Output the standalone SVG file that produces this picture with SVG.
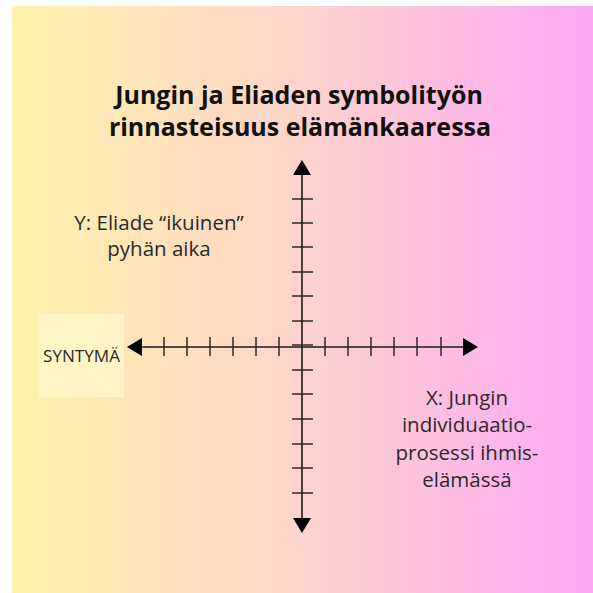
<svg xmlns="http://www.w3.org/2000/svg" width="593" height="593" viewBox="0 0 593 593">
<defs>
<linearGradient id="bg" x1="0" y1="0" x2="1" y2="0">
<stop offset="0" stop-color="#fef3aa"/>
<stop offset="0.5" stop-color="#fdd3cc"/>
<stop offset="1" stop-color="#fea8f6"/>
</linearGradient>
<style>
.title{font-family:"Open Sans","Liberation Sans",sans-serif;font-weight:bold;font-size:25px;fill:#111;text-anchor:middle}
.lbl{font-family:"Open Sans","Liberation Sans",sans-serif;font-size:20.5px;fill:#2a2a2a;text-anchor:middle}
.small{font-family:"Open Sans","Liberation Sans",sans-serif;font-size:16.5px;fill:#2a2a2a}
.axis{stroke:#1a1a1a;stroke-width:1.6;fill:none}
.tick{stroke:#2a2a2a;stroke-width:1.5}
.head{fill:#000}
</style>
</defs>
<rect width="593" height="593" fill="#fff"/>
<rect x="12" y="6" width="581" height="587" fill="url(#bg)"/>
<g id="title">
<text class="title" x="299" y="104">Jungin ja Eliaden symbolityön</text>
<text class="title" x="300" y="136">rinnasteisuus elämänkaaressa</text>
</g>
<g id="syntyma">
<rect x="38" y="314" width="86" height="83" fill="#fff7cc" opacity="0.75"/>
<text class="small" x="43" y="362" textLength="77" lengthAdjust="spacingAndGlyphs">SYNTYMÄ</text>
</g>
<g id="ylabel">
<text class="lbl" x="159" y="230">Y: Eliade “ikuinen”</text>
<text class="lbl" x="159" y="256">pyhän aika</text>
</g>
<g id="xlabel">
<text class="lbl" x="467" y="405">X: Jungin</text>
<text class="lbl" x="467" y="432">individuaatio-</text>
<text class="lbl" x="467" y="460">prosessi ihmis-</text>
<text class="lbl" x="467" y="487">elämässä</text>
</g>
<g id="connectors">
<line class="axis" x1="140" y1="347" x2="466" y2="347"/>
<line class="axis" x1="302" y1="173" x2="302" y2="520"/>
<polygon class="head" points="127,347 142,338 142,356"/>
<polygon class="head" points="478,347 463,338 463,356"/>
<polygon class="head" points="302,160 293,175 311,175"/>
<polygon class="head" points="302,533 293,518 311,518"/>
<g class="tick">
<line x1="164" y1="337" x2="164" y2="356"/>
<line x1="187" y1="337" x2="187" y2="356"/>
<line x1="210" y1="337" x2="210" y2="356"/>
<line x1="233" y1="337" x2="233" y2="356"/>
<line x1="256" y1="337" x2="256" y2="356"/>
<line x1="279" y1="337" x2="279" y2="356"/>
<line x1="325" y1="337" x2="325" y2="356"/>
<line x1="348" y1="337" x2="348" y2="356"/>
<line x1="371" y1="337" x2="371" y2="356"/>
<line x1="394" y1="337" x2="394" y2="356"/>
<line x1="417" y1="337" x2="417" y2="356"/>
<line x1="441" y1="337" x2="441" y2="356"/>
<line x1="292" y1="199" x2="313" y2="199"/>
<line x1="292" y1="223" x2="313" y2="223"/>
<line x1="292" y1="247" x2="313" y2="247"/>
<line x1="292" y1="272" x2="313" y2="272"/>
<line x1="292" y1="296" x2="313" y2="296"/>
<line x1="292" y1="321" x2="313" y2="321"/>
<line x1="292" y1="345" x2="313" y2="345"/>
<line x1="292" y1="370" x2="313" y2="370"/>
<line x1="292" y1="394" x2="313" y2="394"/>
<line x1="292" y1="419" x2="313" y2="419"/>
<line x1="292" y1="444" x2="313" y2="444"/>
<line x1="292" y1="468" x2="313" y2="468"/>
<line x1="292" y1="493" x2="313" y2="493"/>
</g>
</g>
</svg>
